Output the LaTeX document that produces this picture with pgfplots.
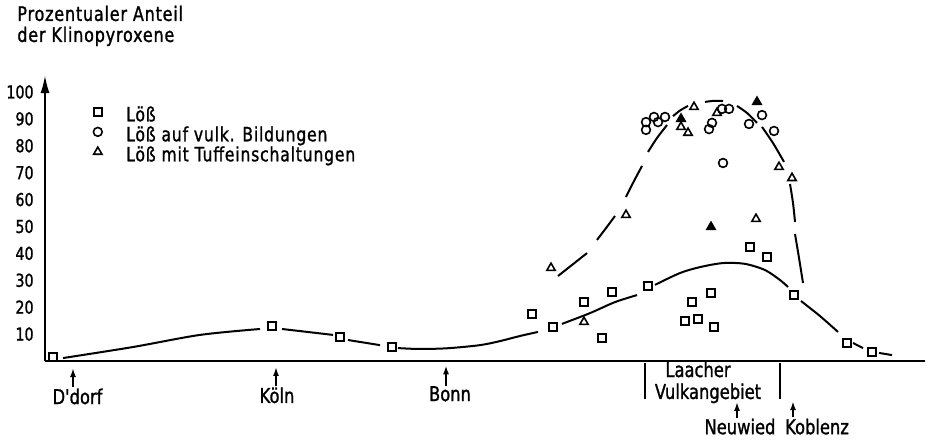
\documentclass[border=0pt]{standalone}
\usepackage{fontspec}
\setmainfont{DejaVu Sans}[FakeStretch=0.8, FakeBold=1.2, Ligatures=TeXOff]
\newfontfamily\widefont{DejaVu Sans}[FakeStretch=0.8, FakeBold=1.2, Ligatures=TeXOff, LetterSpace=4]
\usepackage{pgfplots}
\pgfplotsset{compat=1.18}
\usetikzlibrary{arrows.meta}
\begin{document}
\begin{tikzpicture}
\useasboundingbox (-22.5pt,-39.5pt) rectangle (442pt,180.5pt);
\begin{axis}[
  scale only axis, width=440pt, height=143pt,
  at={(0pt,0pt)}, anchor=south west,
  xmin=45, xmax=925, ymin=0, ymax=106.3,
  axis x line=bottom, axis y line=left,
  axis line style={line width=1.1pt},
  x axis line style={-},
  y axis line style={-{Latex[length=9pt,width=4.5pt]}},
  xtick=\empty, ytick={10,20,...,100},
  major tick length=0pt,
  yticklabel style={font=\fontsize{8.9}{10}\selectfont, inner sep=0pt, xshift=-5.5pt},
  /pgf/number format/assume math mode=true,
  clip=false,
  unbounded coords=jump,
  legend style={at={(axis cs:91,94.6)}, anchor=north west, draw=none, fill=none,
    inner sep=0pt, row sep=0pt, column sep=0pt,
    font=\widefont\fontsize{9.8}{10}\selectfont,
    nodes={inner sep=0pt, text height=7.2pt, text depth=2.8pt}},
  legend cell align=left,
  legend image code/.code={\path (0pt,0pt) (17pt,0pt); \draw[#1] plot coordinates {(3pt,2.5pt)};},
]
% lower solid trend curve (squares)
\addplot[forget plot, black, line width=1pt, smooth] coordinates {
 (63,1.1) (133,5.2) (200,9.7) (260,11.9) (nan,nan)
 (282,11.9) (333,9.7) (nan,nan)
 (348,7.8) (380,5.9) (nan,nan)
 (398,4.8) (415,4.5) (430,4.5) (450,4.8) (480,5.9) (500,7.4) (520,9.3) (538,10.8) (nan,nan)
 (562,13.8) (590,17.8) (615,21.9) (637,24.5) (nan,nan)
 (655,28.3) (680,32.7) (700,34.9) (723,36.4) (745,36.1) (765,33.8) (780,30.1) (788,27.5) (nan,nan)
 (801,22.3) (820,16.7) (838,10.8) (nan,nan)
 (853,6.7) (863,4.8) (nan,nan)
 (879,3.0) (892,2.2)
};
% upper dashed trend curve
\addplot[forget plot, black, line width=1pt, smooth] coordinates {
 (558,31.6) (572,35.7) (587,40.1) (nan,nan)
 (597,45.0) (606,49.4) (615,53.9) (nan,nan)
 (626,61.0) (634,66.9) (642,72.5) (nan,nan)
 (648,77.7) (657,82.9) (667,87.7) (nan,nan)
 (673,91.0) (680,93.1) (688,94.8) (nan,nan)
 (705,96.3) (714,96.7) (723,96.7) (nan,nan)
 (737,94.8) (747,92.2) (757,88.5) (nan,nan)
 (762,87.0) (773,81.0) (784,74.0) (nan,nan)
 (790,65.8) (793,58.7) (795,51.7) (nan,nan)
 (795,47.2) (799,38.3) (803,29.0)
};
% Löß
\addplot[only marks, mark=square, mark size=2pt, mark options={fill=white, line width=0.8pt, draw=black}] coordinates {
 (53,1.5) (272,13.0) (340,8.9) (392,5.2) (532,17.5) (553,12.6) (584,21.9) (612,25.7) (602,8.6)
 (648,27.9) (692,21.9) (711,25.3) (685,14.9) (698,15.6) (714,12.6) (750,42.4) (767,38.7)
 (794,24.5) (847,6.7) (872,3.3)
};
\addlegendentry{Löß}
% Löß auf vulk. Bildungen
\addplot[only marks, mark=o, mark size=2.2pt, mark options={fill=white, line width=0.8pt, draw=black}] coordinates {
 (646,88.8) (646,85.9) (654,90.7) (658,88.8) (665,90.7) (709,86.2) (712,88.5) (722,93.7)
 (729,93.7) (749,88.1) (762,91.4) (774,85.5) (723,73.6)
};
\addlegendentry{Löß auf vulk. Bildungen}
% Löß mit Tuffeinschaltungen
\addplot[only marks, mark=triangle, mark size=2.4pt, mark options={fill=white, line width=0.8pt, draw=black}] coordinates {
 (551,34.6) (584,14.5) (626,54.3) (694,94.4) (681,87.0) (688,84.8) (717,92.2) (779,72.1)
 (792,68.0) (756,52.8)
};
\addlegendentry{Löß mit Tuffeinschaltungen}
\addplot[forget plot, only marks, mark=triangle*, mark size=2.4pt, mark options={fill=black, line width=0.8pt, draw=black}] coordinates {
 (681,90.0) (711,49.8) (757,96.3)
};
% title
\node[anchor=base west, font=\widefont\fontsize{10}{11}\selectfont, inner sep=0pt] at (axis cs:17,126.4) {Prozentualer Anteil};
\node[anchor=base west, font=\widefont\fontsize{10}{11}\selectfont, inner sep=0pt] at (axis cs:17,118.6) {der Klinopyroxene};
% place annotations
\begin{scope}[line width=0.9pt, >={Latex[length=4.5pt,width=3pt]}]
\draw[->] (axis cs:73,-9.67) -- (axis cs:73,-2.6);
\draw[->] (axis cs:276,-9.3) -- (axis cs:276,-2.2);
\draw[->] (axis cs:446,-9.3) -- (axis cs:446,-1.6);
\draw (axis cs:645,-0.74) -- (axis cs:645,-14.1);
\draw (axis cs:780,-0.74) -- (axis cs:780,-14.1);
\draw[->] (axis cs:737,-21.2) -- (axis cs:737,-15.2);
\draw[->] (axis cs:793,-20.8) -- (axis cs:793,-14.9);
\end{scope}
\begin{scope}[every node/.style={anchor=base, inner sep=0pt, font=\fontsize{10.2}{12}\selectfont}]
\node at (axis cs:77.5,-16.0) {D'dorf};
\node at (axis cs:277,-15.6) {Köln};
\node at (axis cs:450,-14.9) {Bonn};
\node at (axis cs:698,-5.95) {Laacher};
\node at (axis cs:708,-14.1) {Vulkangebiet};
\node at (axis cs:740,-27.2) {Neuwied};
\node at (axis cs:817,-27.2) {Koblenz};
\end{scope}
\end{axis}
\end{tikzpicture}
\end{document}
